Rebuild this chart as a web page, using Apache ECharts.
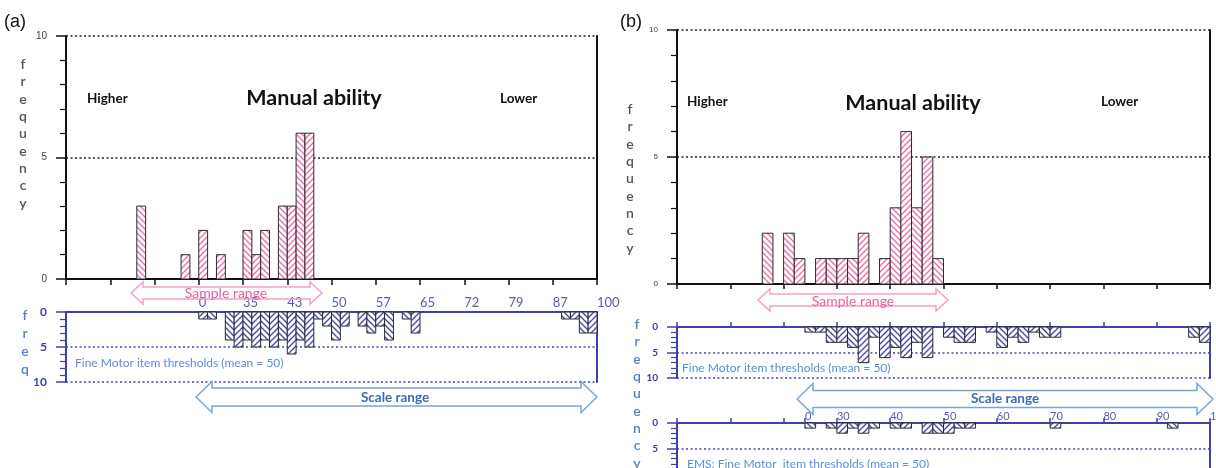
<!DOCTYPE html>
<html><head><meta charset="utf-8">
<script src="https://cdn.jsdelivr.net/npm/echarts@6/dist/echarts.min.js"></script>
<style>html,body{margin:0;padding:0;background:#fff}#c{width:1216px;height:468px}</style>
</head><body><div id="c"></div>
<script>
// ---------------- data ----------------
// panel (a): 60 bins along the scale
const aSampleFreq = [0,0,0,0,0,0,0,0,3,0, 0,0,0,1,0,2,0,1,0,0, 2,1,2,0,3,3,6,6,0,0, 0,0,0,0,0,0,0,0,0,0, 0,0,0,0,0,0,0,0,0,0, 0,0,0,0,0,0,0,0,0,0];
const aItemFreq   = [0,0,0,0,0,0,0,0,0,0, 0,0,0,0,0,1,1,0,4,5, 4,5,4,5,4,6,4,5,1,2, 4,2,0,2,3,2,4,0,1,3, 0,0,0,0,0,0,0,0,0,0, 0,0,0,0,0,0,1,1,3,3];
const aItemTickLabels = ['0','35','43','50','57','65','72','79','87','100'];
const aItemTickBins   = [15,20,25,30,35,40,45,50,55,60];
// panel (b): 50 bins along the scale
const bSampleFreq = [0,0,0,0,0,0,0,0,2,0, 2,1,0,1,1,1,1,2,0,1, 3,6,3,5,1,0,0,0,0,0, 0,0,0,0,0,0,0,0,0,0, 0,0,0,0,0,0,0,0,0,0];
const bItemFreq   = [0,0,0,0,0,0,0,0,0,0, 0,0,1,1,3,3,4,7,2,6, 4,6,3,6,0,2,3,3,0,1, 4,2,3,1,2,2,0,0,0,0, 0,0,0,0,0,0,0,0,2,3];
const bEmsFreq    = [0,0,0,0,0,0,0,0,0,0, 0,0,1,0,1,2,1,2,1,0, 1,1,0,2,2,2,1,1,0,0, 0,0,0,0,0,1,0,0,0,0, 0,0,0,0,0,0,1,0,0,0];
const bEmsTickLabels = ['0','30','40','50','60','70','80','90','100'];
const bEmsTickBins   = [12,15,20,25,30,35,40,45,50];

// ---------------- styles ----------------
const FONT = 'Lato, "Open Sans", sans-serif';
const NAVY = '#3f3fa6';
const PINK = '#ee6fae';
const BLUEH = '#4a4ab0';
const LIGHTBLUE = '#5b8fd4';

function hatch(color, dir) {
  const s = 6, c = document.createElement('canvas');
  c.width = s; c.height = s;
  const g = c.getContext('2d');
  g.fillStyle = '#fff'; g.fillRect(0, 0, s, s);
  g.strokeStyle = color; g.lineWidth = 1.4;
  g.beginPath();
  if (dir > 0) {
    g.moveTo(-1, s + 1); g.lineTo(s + 1, -1);
    g.moveTo(-2, 2); g.lineTo(2, -2);
    g.moveTo(s - 2, s + 2); g.lineTo(s + 2, s - 2);
  } else {
    g.moveTo(-1, -1); g.lineTo(s + 1, s + 1);
    g.moveTo(s - 2, -2); g.lineTo(s + 2, 2);
    g.moveTo(-2, s - 2); g.lineTo(2, s + 2);
  }
  g.stroke();
  return c;
}
const pinkPat = [{image: hatch(PINK, -1), repeat: 'repeat'}, {image: hatch(PINK, 1), repeat: 'repeat'}];
const bluePat = [{image: hatch(BLUEH, -1), repeat: 'repeat'}, {image: hatch(BLUEH, 1), repeat: 'repeat'}];

function barSeries(freq, xi, yi, pats) {
  const data = [];
  freq.forEach((v, i) => { if (v > 0) data.push([i, v]); });
  return {
    type: 'custom', xAxisIndex: xi, yAxisIndex: yi, data: data, z: 3,
    renderItem: function (params, api) {
      const b = api.value(0), v = api.value(1);
      const p0 = api.coord([b, 0]), p1 = api.coord([b + 1, v]);
      return {
        type: 'rect',
        shape: {x: p0[0], y: Math.min(p0[1], p1[1]), width: p1[0] - p0[0], height: Math.abs(p1[1] - p0[1])},
        style: {fill: pats[b % 2], stroke: '#2a2a2a', lineWidth: 1}
      };
    }
  };
}

function xTop(grid, max, opts) {
  return Object.assign({
    type: 'value', gridIndex: grid, min: 0, max: max, interval: 5, position: 'bottom',
    axisLine: {show: true, onZero: false, lineStyle: {color: '#111', width: 2}},
    axisTick: {show: true, length: 6, lineStyle: {color: '#111', width: 1.5}},
    axisLabel: {show: false}, splitLine: {show: false}
  }, opts || {});
}
function yFreq(grid, color, inverse, fs, dotColor) {
  return {
    type: 'value', gridIndex: grid, min: 0, max: 10, interval: 5, inverse: inverse, position: 'left',
    axisLine: {show: true, onZero: false, lineStyle: {color: color, width: 2}},
    axisTick: {show: true, length: 10, lineStyle: {color: color, width: 1.5}},
    minorTick: {show: true, splitNumber: 5, length: 6, lineStyle: {color: color, width: 1.2}},
    axisLabel: {show: true, margin: 19, color: inverse ? NAVY : '#444', fontSize: fs,
      fontWeight: inverse ? 'bold' : 'normal',
      fontFamily: inverse ? FONT : '"Liberation Sans Narrow", "Liberation Sans", sans-serif'},
    splitLine: {show: true, lineStyle: {color: dotColor, width: 1.6, type: [2, 2.5]}}
  };
}
function yRight(grid, color, inverse) {
  return {
    type: 'value', gridIndex: grid, min: 0, max: 10, inverse: inverse, position: 'right',
    axisLine: {show: true, onZero: false, lineStyle: {color: color, width: 2}},
    axisTick: {show: false}, axisLabel: {show: false}, splitLine: {show: false}
  };
}

function txt(text, x, y, size, color, weight, align, extra) {
  return {type: 'text', z: 20, style: Object.assign({
    text: text, x: x, y: y, fill: color, align: align || 'left', verticalAlign: 'middle',
    font: (weight || 'normal') + ' ' + size + 'px ' + FONT
  }, extra || {})};
}
function vword(text, x, yTop, lh, color, size) {
  return {type: 'text', z: 20, style: {
    text: text.split('').join('\n'), x: x, y: yTop, fill: color, align: 'center', verticalAlign: 'top',
    font: '600 ' + size + 'px ' + FONT, lineHeight: lh
  }};
}
function dblArrow(x0, x1, yc, H, B, h, stroke) {
  return {type: 'polygon', z: 15, shape: {points: [
    [x0, yc], [x0 + h, yc - H / 2], [x0 + h, yc - B / 2], [x1 - h, yc - B / 2], [x1 - h, yc - H / 2],
    [x1, yc], [x1 - h, yc + H / 2], [x1 - h, yc + B / 2], [x0 + h, yc + B / 2], [x0 + h, yc + H / 2]
  ]}, style: {fill: 'none', stroke: stroke, lineWidth: 1.5}};
}

const chart = echarts.init(document.getElementById('c'), null, {renderer: 'canvas'});
const option = {
  animation: false,
  backgroundColor: '#fff',
  grid: [
    {left: 66, top: 36, width: 531, height: 243, outerBoundsMode: 'none'},
    {left: 66, top: 312, width: 531, height: 70, outerBoundsMode: 'none'},
    {left: 677, top: 30, width: 533, height: 254, outerBoundsMode: 'none'},
    {left: 677, top: 327, width: 533, height: 51, outerBoundsMode: 'none'},
    {left: 677, top: 423, width: 533, height: 51, outerBoundsMode: 'none'}
  ],
  xAxis: [
    xTop(0, 60),
    xTop(1, 60, {position: 'top',
      axisLine: {show: true, onZero: false, lineStyle: {color: NAVY, width: 2}},
      axisTick: {show: false},
      axisLabel: {show: true, align: 'left', margin: 3, color: '#5a5ab8', fontSize: 13, fontFamily: FONT,
        customValues: aItemTickBins,
        formatter: v => aItemTickLabels[aItemTickBins.indexOf(v)] || ''}}),
    xTop(2, 50, {axisTick: {show: true, length: 5, lineStyle: {color: '#111', width: 1.5}}}),
    xTop(3, 50, {position: 'top',
      axisLine: {show: true, onZero: false, lineStyle: {color: NAVY, width: 2}},
      axisTick: {show: true, length: 5, lineStyle: {color: NAVY, width: 1.5}}}),
    xTop(4, 50, {position: 'top',
      axisLine: {show: true, onZero: false, lineStyle: {color: NAVY, width: 2}},
      axisTick: {show: true, length: 5, lineStyle: {color: NAVY, width: 1.5},
        customValues: [0, 5, 10].concat(bEmsTickBins)},
      axisLabel: {show: true, align: 'left', margin: 1, color: '#5a5ab8', fontSize: 11, fontFamily: FONT,
        customValues: bEmsTickBins,
        formatter: v => bEmsTickLabels[bEmsTickBins.indexOf(v)] || ''}})
  ],
  yAxis: [
    yFreq(0, '#111', false, 10, '#222'), yRight(0, '#111', false),
    yFreq(1, NAVY, true, 12, '#4646b0'), yRight(1, NAVY, true),
    yFreq(2, '#111', false, 8, '#222'), yRight(2, '#111', false),
    yFreq(3, NAVY, true, 10, '#4646b0'), yRight(3, NAVY, true),
    yFreq(4, NAVY, true, 10, '#4646b0'), yRight(4, NAVY, true)
  ],
  series: [
    barSeries(aSampleFreq, 0, 0, pinkPat),
    barSeries(aItemFreq, 1, 2, bluePat),
    barSeries(bSampleFreq, 2, 4, pinkPat),
    barSeries(bItemFreq, 3, 6, bluePat),
    barSeries(bEmsFreq, 4, 8, bluePat)
  ],
  graphic: [
    txt('(a)', 4, 22, 18, '#111', 'normal', 'left', {font: '18px "Liberation Sans", Arial, sans-serif'}),
    txt('(b)', 620, 22, 18, '#111', 'normal', 'left', {font: '18px "Liberation Sans", Arial, sans-serif'}),
    vword('frequency', 23, 56, 17.3, '#555', 14),
    vword('freq', 25, 306, 18, '#5b7fc6', 14),
    vword('frequency', 630, 101, 17.3, '#555', 14),
    vword('frequency', 637, 316, 17.3, '#5b7fc6', 14),
    txt('Higher', 87, 99, 13.5, '#111', 'bold'),
    txt('Manual ability', 314, 98, 21.5, '#111', 'bold', 'center'),
    txt('Lower', 500, 99, 13.5, '#111', 'bold'),
    txt('Higher', 687, 102, 13.5, '#111', 'bold'),
    txt('Manual ability', 913, 103, 21.5, '#111', 'bold', 'center'),
    txt('Lower', 1101, 102, 13.5, '#111', 'bold'),
    dblArrow(131, 322, 293, 22, 12, 12, '#f4a0ca'),
    txt('Sample range', 226, 293, 14, '#e8609f', 'normal', 'center'),
    dblArrow(758, 948, 300, 22, 12, 12, '#f4a0ca'),
    txt('Sample range', 853, 301, 14, '#e8609f', 'normal', 'center'),
    txt('Fine Motor item thresholds (mean = 50)', 75, 363, 12, LIGHTBLUE),
    txt('Fine Motor item thresholds (mean = 50)', 682, 368, 12, LIGHTBLUE),
    txt('EMS: Fine Motor  item thresholds (mean = 50)', 687, 464, 12, LIGHTBLUE),
    dblArrow(196, 597, 397, 31, 18, 16, '#78a5dc'),
    txt('Scale range', 395, 398, 13.5, '#3a6db0', 'bold', 'center'),
    dblArrow(797, 1213, 399, 31, 17, 16, '#78a5dc'),
    txt('Scale range', 1005, 399, 13.5, '#3a6db0', 'bold', 'center')
  ]
};
chart.setOption(option);
</script>
</body></html>
